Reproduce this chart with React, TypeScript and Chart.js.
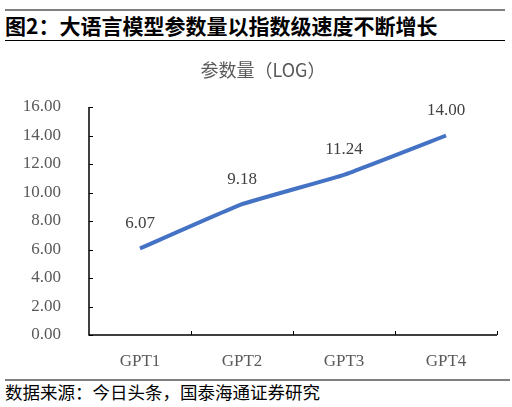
import React, { useEffect, useRef } from "react";
import { Chart, registerables } from "chart.js";

Chart.register(...registerables);

const categories = ["GPT1", "GPT2", "GPT3", "GPT4"];
const paramLog = [6.07, 9.18, 11.24, 14.0];
const yTicks = [0, 2, 4, 6, 8, 10, 12, 14, 16];
const figureTitle = "图2：大语言模型参数量以指数级速度不断增长";
const chartTitle = "参数量（LOG）";
const sourceNote = "数据来源：今日头条，国泰海通证券研究";

const SERIF = "'Liberation Serif', 'Noto Sans CJK SC', serif";
const CJK = "'Noto Sans CJK SC', 'Liberation Serif', sans-serif";

const decorPlugin = {
  id: "decor",
  afterDraw(chart: any) {
    const ctx = chart.ctx;
    const { left, right, top, bottom } = chart.chartArea;
    const yScale = chart.scales.y;
    ctx.save();
    // title
    ctx.fillStyle = "#595959";
    ctx.font = `18px ${CJK}`;
    ctx.textAlign = "center";
    ctx.textBaseline = "middle";
    ctx.fillText(chartTitle, 263, 26);
    // axes
    ctx.strokeStyle = "#000000";
    ctx.lineWidth = 1.5;
    ctx.beginPath();
    ctx.moveTo(left, top);
    ctx.lineTo(left, bottom);
    ctx.lineTo(right, bottom);
    ctx.stroke();
    ctx.lineWidth = 1;
    ctx.beginPath();
    yTicks.forEach((v) => {
      const y = Math.round(yScale.getPixelForValue(v)) + 0.5;
      ctx.moveTo(left, y);
      ctx.lineTo(left + 4, y);
    });
    const n = categories.length;
    for (let i = 1; i <= n; i++) {
      const x = Math.round(left + ((right - left) * i) / n) + 0.5;
      ctx.moveTo(x, bottom);
      ctx.lineTo(x, bottom - 4);
    }
    ctx.stroke();
    // data labels
    const meta = chart.getDatasetMeta(0);
    ctx.fillStyle = "#404040";
    ctx.font = `17px ${SERIF}`;
    meta.data.forEach((pt: any, i: number) => {
      ctx.fillText(paramLog[i].toFixed(2), pt.x, pt.y - 25);
    });
    ctx.restore();
  },
};

export default function App() {
  const ref = useRef<HTMLCanvasElement>(null);
  useEffect(() => {
    const chart = new Chart(ref.current!, {
      type: "line",
      data: {
        labels: categories,
        datasets: [
          {
            data: paramLog,
            borderColor: "#4472C4",
            borderWidth: 4,
            pointRadius: 0,
            tension: 0.1,
            fill: false,
          },
        ],
      },
      options: {
        animation: false,
        responsive: false,
        maintainAspectRatio: false,
        layout: { padding: { left: 0, right: 15, top: 63, bottom: 0 } },
        plugins: { legend: { display: false }, title: { display: false }, tooltip: { enabled: false } },
        scales: {
          x: {
            offset: true,
            grid: { display: false },
            border: { display: false },
            ticks: { color: "#595959", font: { family: SERIF, size: 17 }, padding: 8 },
            afterFit: (s: any) => {
              s.height = 44;
            },
          },
          y: {
            min: 0,
            max: 16,
            grid: { display: false },
            border: { display: false },
            afterBuildTicks: (s: any) => {
              s.ticks = yTicks.map((v) => ({ value: v }));
            },
            ticks: {
              color: "#595959",
              font: { family: SERIF, size: 17 },
              padding: 20,
              callback: (v: any) => Number(v).toFixed(2),
            },
            afterFit: (s: any) => {
              s.width = 89;
            },
          },
        },
      },
      plugins: [decorPlugin],
    } as any);
    return () => chart.destroy();
  }, []);

  return (
    <div style={{ position: "fixed", left: 0, top: 0, width: 512, height: 407, background: "#fff", overflow: "hidden" }}>
      <div style={{ position: "absolute", left: 5, top: 9, width: 500, height: 2, background: "#7f7f7f" }} />
      <div
        style={{
          position: "absolute",
          left: 5,
          top: 11,
          fontFamily: CJK,
          fontWeight: 700,
          fontSize: 21,
          lineHeight: "28px",
          color: "#000",
          whiteSpace: "nowrap",
        }}
      >
        {figureTitle}
      </div>
      <div style={{ position: "absolute", left: 5, top: 40, width: 500, height: 1, background: "#000" }} />
      <canvas ref={ref} width={512} height={335} style={{ position: "absolute", left: 0, top: 44, width: 512, height: 335 }} />
      <div style={{ position: "absolute", left: 5, top: 379, width: 505, height: 2, background: "#7f7f7f" }} />
      <div
        style={{
          position: "absolute",
          left: 5,
          top: 381,
          fontFamily: CJK,
          fontSize: 17.5,
          lineHeight: "22px",
          color: "#000",
          whiteSpace: "nowrap",
        }}
      >
        {sourceNote}
      </div>
    </div>
  );
}
